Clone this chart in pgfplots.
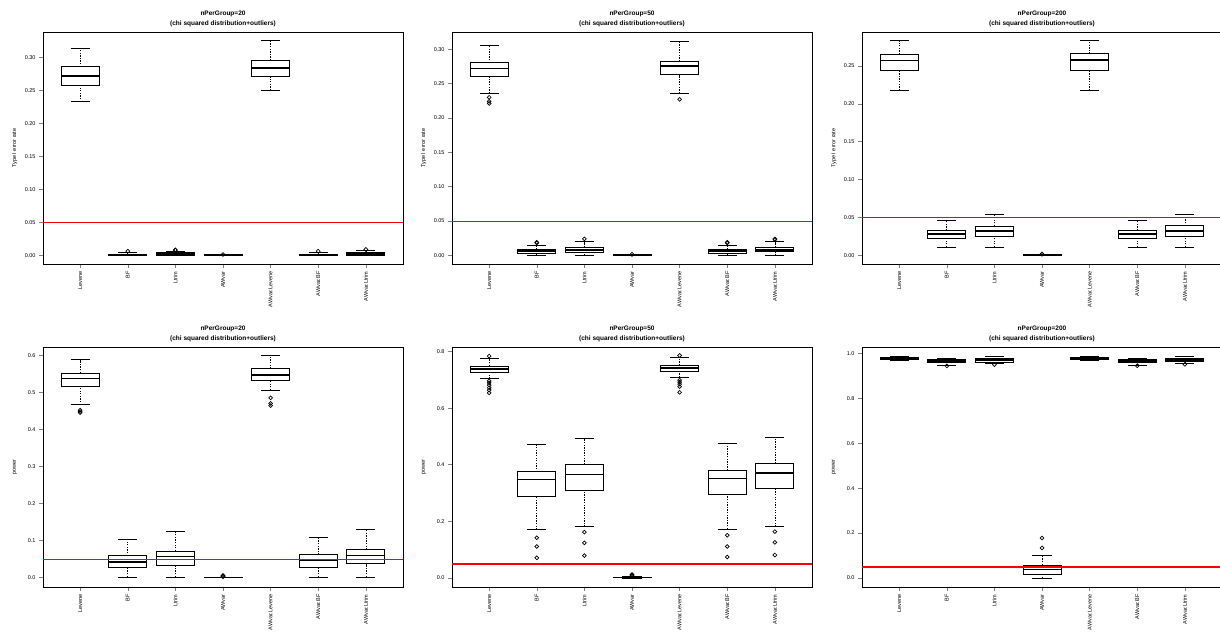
\documentclass[border=0pt]{standalone}
\usepackage{pgfplots}
\pgfplotsset{compat=1.18}
\usepgfplotslibrary{statistics}
\usepackage{fontspec}
\setmainfont{Liberation Sans}
\pgfplotsset{
  /pgfplots/boxplot/draw/lower whisker/.code={%
    \draw[line width=0.6pt, dash pattern=on 1.3pt off 1.3pt]
      (boxplot box cs:\pgfplotsboxplotvalue{lower whisker},0.5) --
      (boxplot box cs:\pgfplotsboxplotvalue{lower quartile},0.5);
    \draw[line width=0.8pt]
      (boxplot box cs:\pgfplotsboxplotvalue{lower whisker},0.25) --
      (boxplot box cs:\pgfplotsboxplotvalue{lower whisker},0.75);
  },
  /pgfplots/boxplot/draw/upper whisker/.code={%
    \draw[line width=0.6pt, dash pattern=on 1.3pt off 1.3pt]
      (boxplot box cs:\pgfplotsboxplotvalue{upper quartile},0.5) --
      (boxplot box cs:\pgfplotsboxplotvalue{upper whisker},0.5);
    \draw[line width=0.8pt]
      (boxplot box cs:\pgfplotsboxplotvalue{upper whisker},0.25) --
      (boxplot box cs:\pgfplotsboxplotvalue{upper whisker},0.75);
  },
  bp/.style={black, solid, line width=0.9pt, mark=o, mark size=1.9pt,
     mark options={solid, line width=0.7pt},
     boxplot/draw direction=y,
     boxplot/box extend=0.8,
     boxplot/every median/.style={line width=1.6pt}},
  panel/.style={scale only axis, width=360pt,
     xmin=0.22, xmax=7.78,
     xtick={1,...,7},
     xticklabels={Levene,BF,Ltrim,AWvar,AWvar.Levene,AWvar.BF,AWvar.Ltrim},
     xticklabel style={rotate=90, anchor=east, font=\fontsize{5.5}{6}\selectfont},
     yticklabel style={font=\fontsize{5.5}{6}\selectfont},
     tick align=outside, major tick length=4pt,
     xtick pos=bottom, ytick pos=left,
     tick style={line width=0.5pt},
     axis line style={line width=0.7pt},
     every axis title shift=0pt,
     title style={at={(0.5,1)}, anchor=south, yshift=2pt, align=center,
        font=\bfseries\fontsize{6.5}{10}\selectfont},
     every axis y label/.style={at={(axis description cs:-0.078,0.5)},
        rotate=90, anchor=center, font=\fontsize{5.5}{6}\selectfont},
     clip=true},
  toprow/.style={height=232pt, ylabel={Type I error rate}},
  botrow/.style={height=240pt, ylabel={power}},
}
\newcommand{\bx}[6]{\addplot[bp, boxplot prepared={draw position=#1,
   lower whisker=#2, lower quartile=#3, median=#4, upper quartile=#5,
   upper whisker=#6}] coordinates {};}
\newcommand{\bxo}[7]{\addplot[bp, boxplot prepared={draw position=#1,
   lower whisker=#2, lower quartile=#3, median=#4, upper quartile=#5,
   upper whisker=#6}] table[row sep=\\, y index=0] {data\\ #7};}
% reference line at 0.05: thin plotted line plus a red rule laid over it
\newcommand{\refline}{%
  \addplot[red, solid, mark=none, line width=0.5pt, forget plot] coordinates {(0.22,0.05) (7.78,0.05)};
  \node[inner sep=0pt, anchor=center] at (axis cs:4,0.05)
     {\textcolor{red}{\rule[-0.5pt]{360pt}{1pt}}};}
\newcommand{\ttl}[1]{\textbf{nPerGroup=#1}\\\textbf{(chi squared distribution+outliers)}}
\begin{document}
\begin{tikzpicture}
\useasboundingbox (0pt,0pt) rectangle (1220pt,635pt);
% ---------- Panel 1 ----------
\begin{axis}[panel, toprow, at={(43pt,371pt)}, anchor=south west,
  title={\ttl{20}}, ymin=-0.013, ymax=0.339,
  ytick={0,0.05,0.10,0.15,0.20,0.25,0.30},
  yticklabels={0.00,0.05,0.10,0.15,0.20,0.25,0.30}]
\bx{1}{0.233}{0.258}{0.272}{0.286}{0.314}
\bxo{2}{0}{0}{0.001}{0.002}{0.004}{0.0065\\}
\bxo{3}{0}{0.0005}{0.002}{0.004}{0.006}{0.008\\ 0.0085\\}
\bxo{4}{0}{0}{0.0003}{0.0008}{0.0012}{0.0015\\}
\bx{5}{0.2506}{0.271}{0.284}{0.296}{0.326}
\bxo{6}{0}{0}{0.001}{0.002}{0.004}{0.0065\\}
\bxo{7}{0}{0.0005}{0.002}{0.004}{0.0075}{0.009\\}
\refline
\end{axis}
% ---------- Panel 2 ----------
\begin{axis}[panel, toprow, at={(452pt,371pt)}, anchor=south west,
  title={\ttl{50}}, ymin=-0.0125, ymax=0.325,
  ytick={0,0.05,0.10,0.15,0.20,0.25,0.30},
  yticklabels={0.00,0.05,0.10,0.15,0.20,0.25,0.30}]
\bxo{1}{0.236}{0.2604}{0.272}{0.280}{0.3054}{0.230\\ 0.224\\ 0.221\\}
\bxo{2}{0}{0.003}{0.006}{0.009}{0.015}{0.018\\ 0.019\\}
\bxo{3}{0}{0.005}{0.008}{0.012}{0.020}{0.024\\}
\bxo{4}{0}{0}{0.0003}{0.0008}{0.0012}{0.0015\\}
\bxo{5}{0.236}{0.263}{0.2754}{0.2826}{0.312}{0.227\\}
\bxo{6}{0}{0.003}{0.006}{0.009}{0.015}{0.018\\ 0.019\\}
\bxo{7}{0}{0.006}{0.008}{0.012}{0.020}{0.023\\ 0.024\\}
\refline
\end{axis}
% ---------- Panel 3 ----------
\begin{axis}[panel, toprow, at={(862pt,371pt)}, anchor=south west,
  title={\ttl{200}}, ymin=-0.0113, ymax=0.2947,
  ytick={0,0.05,0.10,0.15,0.20,0.25},
  yticklabels={0.00,0.05,0.10,0.15,0.20,0.25}]
\bx{1}{0.218}{0.244}{0.257}{0.2654}{0.283}
\bx{2}{0.011}{0.0229}{0.028}{0.0334}{0.0466}
\bx{3}{0.011}{0.025}{0.032}{0.0387}{0.054}
\bxo{4}{0}{0}{0.0003}{0.0008}{0.0012}{0.0015\\ 0.002\\}
\bx{5}{0.218}{0.2445}{0.258}{0.266}{0.283}
\bx{6}{0.011}{0.0229}{0.028}{0.0334}{0.0466}
\bx{7}{0.011}{0.025}{0.032}{0.039}{0.054}
\refline
\end{axis}
% ---------- Panel 4 ----------
\begin{axis}[panel, botrow, at={(43pt,48pt)}, anchor=south west,
  title={\ttl{20}}, ymin=-0.025, ymax=0.622,
  ytick={0,0.1,0.2,0.3,0.4,0.5,0.6},
  yticklabels={0.0,0.1,0.2,0.3,0.4,0.5,0.6}]
\bxo{1}{0.466}{0.517}{0.537}{0.552}{0.588}{0.452\\ 0.448\\ 0.445\\}
\bx{2}{0.002}{0.027}{0.043}{0.059}{0.1045}
\bx{3}{0.002}{0.033}{0.057}{0.072}{0.126}
\bxo{4}{0}{0}{0.0005}{0.001}{0.002}{0.003\\ 0.004\\ 0.005\\ 0.006\\}
\bxo{5}{0.506}{0.532}{0.547}{0.564}{0.599}{0.485\\ 0.470\\ 0.464\\}
\bx{6}{0.002}{0.028}{0.046}{0.062}{0.108}
\bx{7}{0.002}{0.038}{0.060}{0.076}{0.130}
\refline
\end{axis}
% ---------- Panel 5 ----------
\begin{axis}[panel, botrow, at={(452pt,48pt)}, anchor=south west,
  title={\ttl{50}}, ymin=-0.032, ymax=0.816,
  ytick={0,0.2,0.4,0.6,0.8},
  yticklabels={0.0,0.2,0.4,0.6,0.8}]
\bxo{1}{0.704}{0.727}{0.738}{0.749}{0.775}{0.784\\ 0.696\\ 0.689\\ 0.681\\ 0.672\\ 0.664\\ 0.654\\}
\bxo{2}{0.171}{0.289}{0.348}{0.375}{0.473}{0.142\\ 0.111\\ 0.071\\}
\bxo{3}{0.181}{0.309}{0.365}{0.402}{0.494}{0.162\\ 0.124\\ 0.079\\}
\bxo{4}{0}{0}{0.001}{0.003}{0.006}{0.008\\ 0.010\\ 0.012\\}
\bxo{5}{0.709}{0.731}{0.741}{0.751}{0.778}{0.786\\ 0.699\\ 0.692\\ 0.685\\ 0.676\\ 0.656\\}
\bxo{6}{0.173}{0.295}{0.351}{0.380}{0.476}{0.151\\ 0.111\\ 0.074\\}
\bxo{7}{0.182}{0.315}{0.371}{0.405}{0.496}{0.164\\ 0.126\\ 0.081\\}
\refline
\end{axis}
% ---------- Panel 6 ----------
\begin{axis}[panel, botrow, at={(862pt,48pt)}, anchor=south west,
  title={\ttl{200}}, ymin=-0.04, ymax=1.028,
  ytick={0,0.2,0.4,0.6,0.8,1.0},
  yticklabels={0.0,0.2,0.4,0.6,0.8,1.0}]
\bx{1}{0.969}{0.973}{0.978}{0.982}{0.987}
\bxo{2}{0.948}{0.960}{0.967}{0.973}{0.978}{0.944\\}
\bxo{3}{0.953}{0.961}{0.969}{0.975}{0.984}{0.950\\}
\bxo{4}{0}{0.018}{0.037}{0.058}{0.102}{0.134\\ 0.178\\}
\bx{5}{0.970}{0.974}{0.979}{0.983}{0.988}
\bxo{6}{0.948}{0.960}{0.966}{0.972}{0.978}{0.945\\}
\bxo{7}{0.954}{0.962}{0.970}{0.975}{0.984}{0.951\\}
\refline
\end{axis}
\end{tikzpicture}
\end{document}
